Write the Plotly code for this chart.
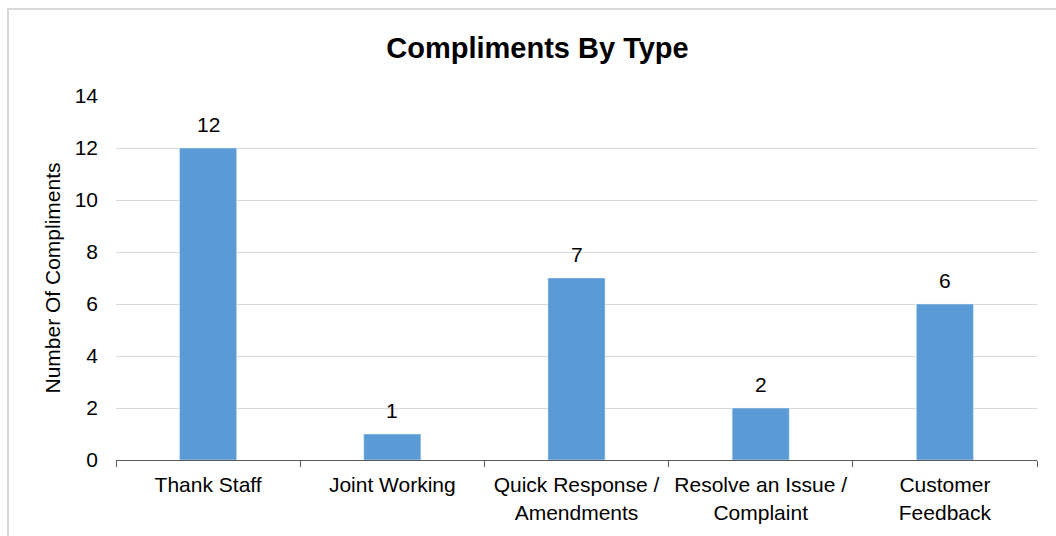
import plotly.graph_objects as go

categories = ["Thank Staff", "Joint Working", "Quick Response /<br>Amendments",
              "Resolve an Issue /<br>Complaint", "Customer<br>Feedback"]
values = [12, 1, 7, 2, 6]
y_ticks = [0, 2, 4, 6, 8, 10, 12, 14]

FONT = "Liberation Sans, Arial, sans-serif"

L, R, T, B = 116, 1037, 96, 460
W, H = 1056, 536
pw, ph = R - L, B - T

fig = go.Figure(go.Bar(
    x=categories, y=values, marker_color="#5B9BD5", width=0.31,
    cliponaxis=False,
))

annotations = [dict(x=c, y=v, xref="x", yref="y", text=str(v), showarrow=False,
                    yanchor="bottom", xanchor="center", yshift=10,
                    font=dict(size=21, color="#000000", family=FONT))
               for c, v in zip(categories, values)]

fig.update_layout(
    width=W, height=H,
    margin=dict(l=L, r=W - R, t=T, b=H - B, pad=0),
    plot_bgcolor="white", paper_bgcolor="white",
    font=dict(family=FONT, size=21, color="#000000"),
    title=dict(text="<b>Compliments By Type</b>", x=(537.5 - L) / pw, xref="paper",
               xanchor="center", y=1 - 48 / H, yanchor="middle",
               font=dict(size=29, color="#000000", family=FONT)),
    showlegend=False,
    annotations=annotations,
    shapes=[dict(type="rect", xref="paper", yref="paper",
                 x0=(8 - L) / pw, x1=(1070 - L) / pw,
                 y0=-(560 - B) / ph, y1=1 + (T - 9) / ph,
                 line=dict(color="#D9D9D9", width=2), fillcolor="rgba(0,0,0,0)",
                 layer="below")],
)

fig.update_xaxes(
    showline=True, linecolor="#595959", linewidth=1,
    ticks="outside", tickson="boundaries", ticklen=6, tickcolor="#595959",
    ticklabelstandoff=6,
    tickfont=dict(size=21, color="#000000"), showgrid=False,
)
fig.update_yaxes(
    range=[0, 14], tickvals=y_ticks, showgrid=True, gridcolor="#D9D9D9", gridwidth=1,
    zeroline=False, showline=False, ticks="", ticklabelstandoff=17,
    tickfont=dict(size=21, color="#000000"),
    title=dict(text="Number Of Compliments", font=dict(size=21, color="#000000"), standoff=8),
)

fig.write_html("out.html")
